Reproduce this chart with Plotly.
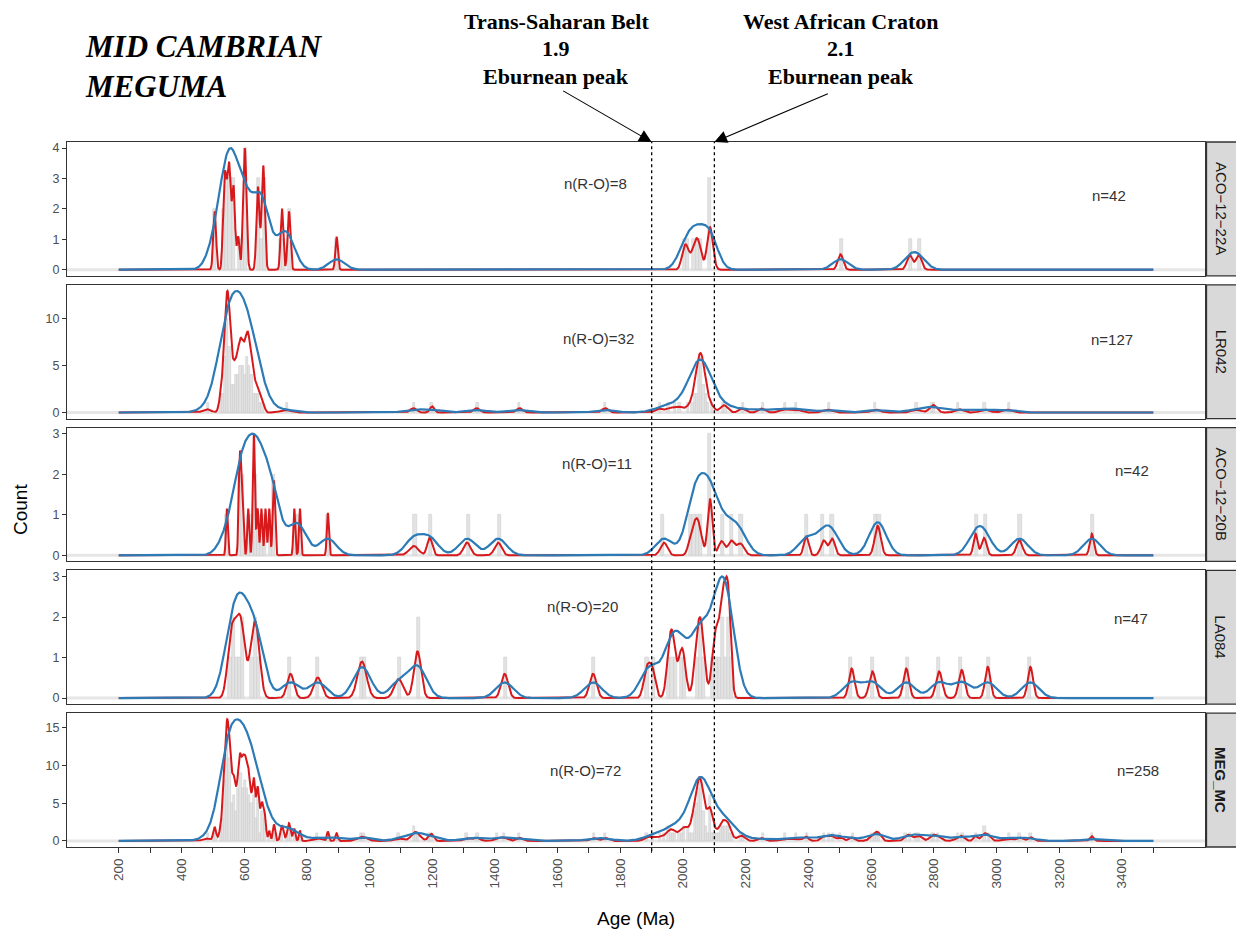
import numpy as np
import plotly.graph_objects as go
from plotly.subplots import make_subplots

# ---------------------------------------------------------------- data
SAMPLES = ["ACO−12−22A", "LR042", "ACO−12−20B", "LA084", "MEG_MC"]

# detrital zircon U-Pb ages (Ma) and 1-sigma uncertainties (Ma)
ACO_12_22A_AGES = [504, 508, 534, 537, 540, 543, 548, 551, 553, 556, 563, 566, 569,
                   581, 597, 600, 602, 604, 607, 641, 644, 647, 657, 660, 662, 665,
                   719, 722, 741, 745, 895,
                   2003, 2013, 2034, 2044, 2053, 2083, 2086, 2089,
                   2502, 2723, 2752]
ACO_12_22A_ERR = [4] * 31 + [9] * 8 + [8.5, 9, 9]

LR042_AGES = [481,
              524, 528, 531, 535,
              537, 538, 539, 540, 541, 542, 543, 544, 545, 545, 546, 547, 547, 548, 548,
              549, 550, 551, 552, 553, 554, 555, 556,
              558, 560, 562, 565, 567, 569,
              571, 573, 575, 577, 579, 581, 583, 584, 586, 587, 588, 589, 590, 592,
              594, 595, 597, 598, 599,
              601, 603, 605, 607, 608, 609, 610, 611, 612, 613, 614, 615, 617, 619,
              621, 623, 624, 626, 629,
              632, 635, 639, 643, 647, 653, 660,
              733, 1140, 1200, 1342, 1479, 1752,
              1922, 1953, 1975, 1991, 2015,
              2030, 2036, 2040, 2043, 2046, 2048, 2050, 2051, 2053, 2054, 2055, 2056,
              2057, 2058, 2059, 2061, 2062, 2064, 2066, 2069, 2073, 2080,
              2092, 2127, 2135, 2189, 2251,
              2323, 2362, 2462, 2614, 2744, 2793, 2803, 2880, 2963, 3035]
LR042_ERR = ([13] + [6] * 78 + [17, 10, 7, 10, 10, 10] + [11] * 32 +
             [15, 15, 15, 15, 15, 10, 10, 13, 15, 15])

ACO_12_20B_AGES = [545, 584, 587, 590, 595, 613, 629, 631, 633, 643, 655, 668,
                   680, 693, 697, 760, 778, 867,
                   1141, 1192, 1311, 1410,
                   1939, 2025, 2038, 2045, 2055, 2083, 2086, 2089, 2123, 2154, 2183,
                   2393, 2449, 2476, 2618, 2624, 2933, 2960, 3073, 3304]
ACO_12_20B_ERR = ([3] * 17 + [3.3] + [15, 8, 11, 11] +
                  [11, 9, 9, 9, 9, 7, 7, 7, 10, 10, 12] +
                  [7.5, 9.5, 8.5, 9, 9, 6.5, 8, 9.5, 6.5])

LA084_AGES = [553, 560, 567, 578, 585, 591, 599, 624, 631, 638, 645,
              748, 835, 972, 980, 1093, 1150, 1156, 1431, 1713,
              1884, 1902, 1956, 1963, 1970, 1993, 2001, 2042, 2050, 2057, 2063,
              2098, 2106, 2112, 2122, 2128, 2134, 2140, 2144, 2150,
              2538, 2604, 2712, 2817, 2889, 2972, 3108]
LA084_ERR = ([11] * 11 + [11, 13, 14, 14, 14, 11, 11, 11, 11] +
             [10] * 14 + [7] * 6 +
             [9, 10, 9, 10, 9.5, 8.5, 8.5])

# the Mid Cambrian composite is the union of the four samples
MEG_MC_AGES = ACO_12_22A_AGES + LR042_AGES + ACO_12_20B_AGES + LA084_AGES
MEG_MC_ERR = ACO_12_22A_ERR + LR042_ERR + ACO_12_20B_ERR + LA084_ERR

AGES = [ACO_12_22A_AGES, LR042_AGES, ACO_12_20B_AGES, LA084_AGES, MEG_MC_AGES]
ERRS = [ACO_12_22A_ERR, LR042_ERR, ACO_12_20B_ERR, LA084_ERR, MEG_MC_ERR]

N_LABELS = [42, 127, 42, 47, 258]
NRO_LABELS = [8, 32, 11, 20, 72]
CURVE_PEAK = [4, 13, 3, 3, 16.1]     # count-scale height of the tallest curve peak
BIN_WIDTH = [10, 7, 10, 10, 7]       # histogram bin width (Ma)
KDE_BW = [25, 33, 27, 28, 28]        # KDE bandwidth (Ma)

X_TICKS = list(range(200, 3501, 100))
X_LABELS = [str(v) if v % 200 == 0 and v <= 3400 else "" for v in X_TICKS]
Y_DTICK = [1, 5, 1, 1, 5]

# ---------------------------------------------------------------- curves
GRID = np.arange(200, 3500.5, 1.0)


def pdp(ages, errs, grid):
    """probability density plot: one gaussian per grain, width = its own error"""
    a = np.asarray(ages, float)[:, None]
    s = np.asarray(errs, float)[:, None]
    return (np.exp(-0.5 * ((grid - a) / s) ** 2) / s).sum(axis=0)


def kde(ages, h, grid):
    a = np.asarray(ages, float)[:, None]
    return np.exp(-0.5 * ((grid - a) / h) ** 2).sum(axis=0)


# ---------------------------------------------------------------- layout geometry
W, H = 1236, 933
PL, PR, PT, PB = 67, 1205, 142, 847


def px_x(x):
    return (x - PL) / (PR - PL)


def px_y(y):
    return (PB - y) / (PB - PT)


RED = "#d7191c"
BLUE = "#2c7bb6"
FONT = "Liberation Sans"
SERIF = "Liberation Serif"

fig = make_subplots(rows=5, cols=1, shared_xaxes=True, vertical_spacing=9 / (PB - PT))

for i in range(5):
    row = i + 1
    ages = np.asarray(AGES[i], float)
    bw = BIN_WIDTH[i]
    edges = np.arange(200, 3500 + bw, bw)
    counts, _ = np.histogram(ages, bins=edges)
    centers = (edges[:-1] + edges[1:]) / 2
    keep = counts > 0
    fig.add_trace(go.Bar(x=centers[keep], y=counts[keep], width=bw,
                         marker=dict(color="#e3e3e3", line=dict(width=0.6, color="#cfcfcf")),
                         showlegend=False, hoverinfo="skip"), row=row, col=1)

    red = pdp(AGES[i], ERRS[i], GRID)
    red = red / red.max() * CURVE_PEAK[i]
    blue = kde(AGES[i], KDE_BW[i], GRID)
    blue = blue / blue.max() * CURVE_PEAK[i]
    fig.add_trace(go.Scatter(x=GRID, y=red, mode="lines", line=dict(color=RED, width=2),
                             showlegend=False, hoverinfo="skip"), row=row, col=1)
    fig.add_trace(go.Scatter(x=GRID, y=blue, mode="lines", line=dict(color=BLUE, width=2.2),
                             showlegend=False, hoverinfo="skip"), row=row, col=1)

    pk = CURVE_PEAK[i]
    yax = dict(range=[-0.05 * pk, 1.05 * pk], dtick=Y_DTICK[i], tick0=0,
               ticks="outside", ticklen=4, tickwidth=1.1, tickcolor="#333333",
               tickfont=dict(family=FONT, size=12.5, color="#4d4d4d"),
               showline=True, mirror=True, linecolor="#333333", linewidth=1.3,
               showgrid=False, zeroline=False)
    fig.update_yaxes(yax, row=row, col=1)
    xax = dict(range=[35, 3665], showline=True, mirror=True, linecolor="#333333",
               linewidth=1.3, showgrid=False, zeroline=False)
    if row == 5:
        xax.update(tickvals=X_TICKS, ticktext=X_LABELS, ticks="outside", ticklen=5,
                   tickwidth=1.1, tickcolor="#333333", tickangle=-90,
                   tickfont=dict(family=FONT, size=13.5, color="#4d4d4d"))
    else:
        xax.update(ticks="", showticklabels=False)
    fig.update_xaxes(xax, row=row, col=1)

    sfx = "" if row == 1 else str(row)
    # zero band along the bottom of each panel
    fig.add_shape(type="line", xref="x" + sfx, yref="y" + sfx, x0=35, x1=3665, y0=0, y1=0,
                  line=dict(color="#e6e6e6", width=3), layer="below")
    # facet strip
    fig.add_shape(type="rect", xref="paper", yref="y" + sfx + " domain",
                  x0=px_x(1206.5), x1=px_x(1242), y0=0, y1=1,
                  fillcolor="#d9d9d9", line=dict(color="#333333", width=1.3))
    label = "<b>%s</b>" % SAMPLES[i] if SAMPLES[i] == "MEG_MC" else SAMPLES[i]
    fig.add_annotation(xref="paper", yref="y" + sfx + " domain", x=px_x(1221), y=0.5,
                       xanchor="center", yanchor="middle",
                       text=label, textangle=90, showarrow=False,
                       font=dict(family=FONT, size=15, color="#1a1a1a"))

# in-panel labels
NRO_POS = [(1720, 0.69), (1730, 0.60), (1725, 0.73), (1680, 0.73), (1690, 0.57)]
N_POS = [(3360, 0.60), (3367, 0.59), (3433, 0.68), (3430, 0.64), (3450, 0.57)]
for i in range(5):
    sfx = "" if i == 0 else str(i + 1)
    fig.add_annotation(xref="x" + sfx, yref="y" + sfx + " domain", x=NRO_POS[i][0],
                       y=NRO_POS[i][1], xanchor="center", yanchor="middle",
                       text="n(R-O)=%d" % NRO_LABELS[i], showarrow=False,
                       font=dict(family=FONT, size=15, color="#333333"))
    fig.add_annotation(xref="x" + sfx, yref="y" + sfx + " domain", x=N_POS[i][0],
                       y=N_POS[i][1], xanchor="center", yanchor="middle",
                       text="n=%d" % N_LABELS[i], showarrow=False,
                       font=dict(family=FONT, size=15, color="#333333"))

# Eburnean reference ages
for age in (1900, 2100):
    fig.add_shape(type="line", xref="x5", yref="paper", x0=age, x1=age, y0=-0.006, y1=1,
                  line=dict(color="black", width=1.3, dash="dot"))

fig.add_annotation(xref="x", yref="paper", x=1900, y=1, ax=-90, ay=-52, text="",
                   showarrow=True, arrowhead=2, arrowsize=2.3, arrowwidth=1.1,
                   arrowcolor="black", standoff=0)
fig.add_annotation(xref="x", yref="paper", x=2100, y=1, ax=115, ay=-49, text="",
                   showarrow=True, arrowhead=2, arrowsize=2.3, arrowwidth=1.1,
                   arrowcolor="black", standoff=0)

for txt, x, y in [("Trans-Saharan Belt", 556, 22), ("1.9", 556, 49), ("Eburnean peak", 556, 76),
                  ("West African Craton", 841, 22), ("2.1", 841, 49), ("Eburnean peak", 841, 77)]:
    fig.add_annotation(xref="paper", yref="paper", x=px_x(x), y=px_y(y), text="<b>%s</b>" % txt,
                       xanchor="center", yanchor="middle", showarrow=False,
                       font=dict(family=SERIF, size=22, color="black"))

for txt, y in [("MID CAMBRIAN", 47), ("MEGUMA", 86)]:
    fig.add_annotation(xref="paper", yref="paper", x=px_x(83), y=px_y(y),
                       xanchor="left", yanchor="middle",
                       text="<b><i>%s</i></b>" % txt, showarrow=False,
                       font=dict(family=SERIF, size=31, color="black"))

fig.add_annotation(xref="paper", yref="paper", x=px_x(20), y=px_y(510), text="Count",
                   xanchor="center", yanchor="middle",
                   textangle=-90, showarrow=False, font=dict(family=FONT, size=19, color="black"))
fig.add_annotation(xref="paper", yref="paper", x=px_x(636), y=px_y(918), text="Age (Ma)",
                   xanchor="center", yanchor="middle",
                   showarrow=False, font=dict(family=FONT, size=19, color="black"))

fig.update_layout(width=W, height=H, margin=dict(l=PL, r=W - PR, t=PT, b=H - PB),
                  plot_bgcolor="white", paper_bgcolor="white", barmode="overlay",
                  bargap=0, showlegend=False)

fig.write_html("out.html")
